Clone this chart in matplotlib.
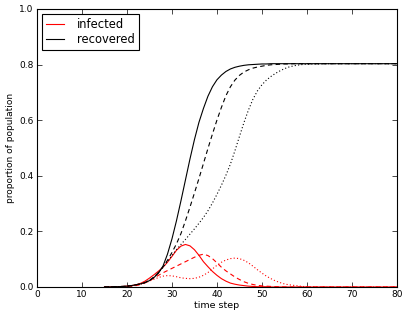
import matplotlib
matplotlib.use("Agg")
import matplotlib.pyplot as plt

# time steps shared by all curves
t = [15, 18] + list(range(20, 61)) + [65, 70, 80]

# infected, three runs (solid, dashed, dotted)
infected_1 = [0.000, 0.001, 0.003, 0.005, 0.008, 0.013, 0.021, 0.032, 0.044, 0.057,
              0.071, 0.089, 0.110, 0.132, 0.147, 0.153, 0.148, 0.134, 0.114, 0.091,
              0.073, 0.056, 0.042, 0.030, 0.021, 0.014, 0.010, 0.007, 0.005, 0.003,
              0.002, 0.001, 0.001, 0.001, 0.000, 0.000, 0.000, 0.000, 0.000, 0.000,
              0.000, 0.000, 0.000, 0.000, 0.000, 0.000]
infected_2 = [0.000, 0.001, 0.002, 0.003, 0.005, 0.009, 0.015, 0.023, 0.032, 0.042,
              0.051, 0.059, 0.067, 0.075, 0.083, 0.091, 0.099, 0.107, 0.114, 0.118,
              0.113, 0.102, 0.087, 0.071, 0.058, 0.047, 0.036, 0.027, 0.019, 0.013,
              0.009, 0.006, 0.004, 0.003, 0.002, 0.001, 0.001, 0.000, 0.000, 0.000,
              0.000, 0.000, 0.000, 0.000, 0.000, 0.000]
infected_3 = [0.000, 0.001, 0.002, 0.004, 0.006, 0.010, 0.015, 0.021, 0.028, 0.034,
              0.039, 0.041, 0.040, 0.037, 0.033, 0.031, 0.030, 0.031, 0.035, 0.042,
              0.052, 0.065, 0.078, 0.089, 0.097, 0.102, 0.104, 0.102, 0.096, 0.087,
              0.075, 0.062, 0.050, 0.039, 0.030, 0.022, 0.016, 0.011, 0.008, 0.006,
              0.004, 0.002, 0.001, 0.000, 0.000, 0.000]

# recovered, same three runs
recovered_1 = [0.000, 0.001, 0.003, 0.005, 0.008, 0.011, 0.016, 0.023, 0.034, 0.050,
               0.075, 0.118, 0.173, 0.238, 0.310, 0.385, 0.460, 0.530, 0.592, 0.642,
               0.686, 0.720, 0.745, 0.762, 0.775, 0.784, 0.790, 0.794, 0.797, 0.799,
               0.800, 0.801, 0.802, 0.802, 0.803, 0.803, 0.803, 0.803, 0.803, 0.803,
               0.803, 0.803, 0.803, 0.803, 0.803, 0.803]
recovered_2 = [0.000, 0.001, 0.003, 0.005, 0.008, 0.011, 0.016, 0.024, 0.036, 0.052,
               0.072, 0.096, 0.124, 0.155, 0.192, 0.238, 0.287, 0.338, 0.390, 0.444,
               0.498, 0.550, 0.600, 0.646, 0.688, 0.720, 0.744, 0.761, 0.773, 0.781,
               0.787, 0.791, 0.794, 0.797, 0.799, 0.800, 0.801, 0.802, 0.802, 0.803,
               0.803, 0.803, 0.803, 0.803, 0.803, 0.803]
recovered_3 = [0.000, 0.001, 0.003, 0.005, 0.008, 0.011, 0.016, 0.024, 0.036, 0.052,
               0.070, 0.091, 0.113, 0.134, 0.153, 0.171, 0.190, 0.209, 0.229, 0.250,
               0.274, 0.302, 0.333, 0.366, 0.402, 0.442, 0.490, 0.541, 0.591, 0.636,
               0.675, 0.705, 0.727, 0.744, 0.757, 0.768, 0.777, 0.785, 0.791, 0.795,
               0.798, 0.800, 0.801, 0.803, 0.803, 0.803]

dashed = (0, (4, 3))
dotted = (0, (1, 2))

fig = plt.figure(figsize=(4.07, 3.18), dpi=100)
ax = fig.add_axes([0.091, 0.0975, 0.884, 0.8745])

ax.plot(t, infected_1, color="red", lw=0.8, label="infected")
ax.plot(t, infected_2, color="red", lw=0.8, linestyle=dashed)
ax.plot(t, infected_3, color="red", lw=0.8, linestyle=dotted)
ax.plot(t, recovered_1, color="black", lw=0.8, label="recovered")
ax.plot(t, recovered_2, color="black", lw=0.8, linestyle=dashed)
ax.plot(t, recovered_3, color="black", lw=0.8, linestyle=dotted)

ax.set_xlim(0, 80)
ax.set_ylim(0, 1.0)
ax.set_xticks(range(0, 81, 10))
ax.set_yticks([0.0, 0.2, 0.4, 0.6, 0.8, 1.0])
ax.set_yticklabels(["0.0", "0.2", "0.4", "0.6", "0.8", "1.0"])
ax.tick_params(direction="in", top=True, right=True, labelsize=6.5, length=3.5, width=0.5, pad=2.5)
for s in ax.spines.values():
    s.set_linewidth(0.8)

ax.set_xlabel("time step", fontsize=6.8, labelpad=1)
ax.set_ylabel("proportion of population", fontsize=6.5, labelpad=3)

leg = ax.legend(loc="upper left", fontsize=8.3, fancybox=False, framealpha=1,
                edgecolor="black", handlelength=1.6, borderaxespad=0.4,
                borderpad=0.35, labelspacing=0.25, handletextpad=1.1)
leg.get_frame().set_linewidth(0.8)

fig.savefig("out.png", dpi=100)
